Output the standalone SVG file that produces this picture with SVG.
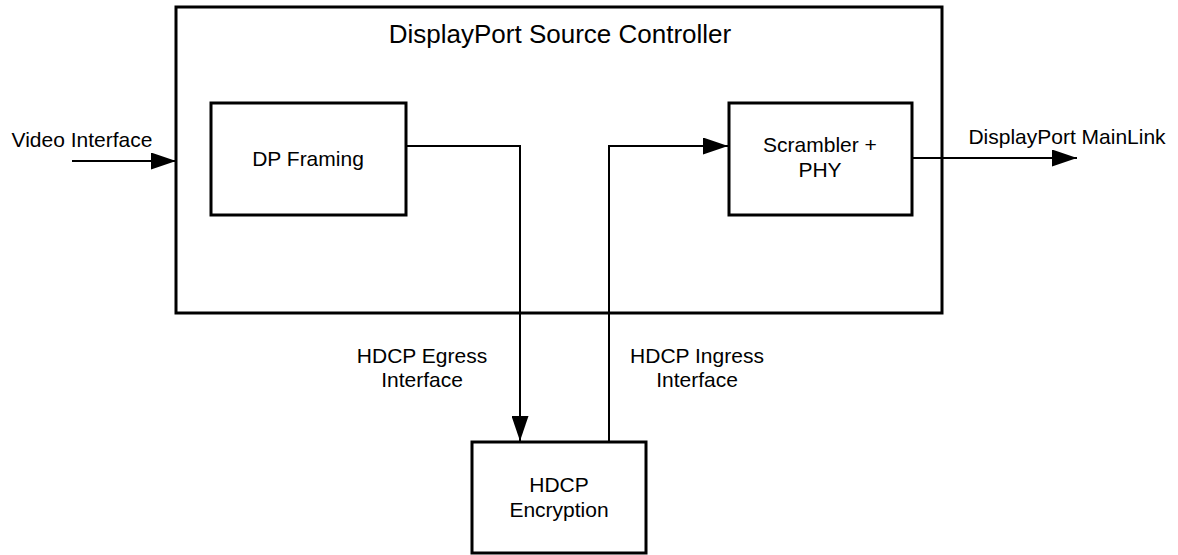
<svg xmlns="http://www.w3.org/2000/svg" width="1178" height="555" viewBox="0 0 1178 555">
<style>
.box{fill:#fff;stroke:#000;stroke-width:3}
.frame{fill:none;stroke:#000;stroke-width:3}
.wire{fill:none;stroke:#000;stroke-width:2}
text{font-family:"Liberation Sans",Arial,sans-serif;font-size:21px;fill:#000;text-anchor:middle}
.title{font-size:26px}
</style>
<defs>
<marker id="arr" viewBox="0 0 25 17" refX="25" refY="8.5" markerWidth="25" markerHeight="17" markerUnits="userSpaceOnUse" orient="auto">
<path d="M0,0 L25,8.5 L0,17 Z" fill="#000"/>
</marker>
</defs>
<g id="controller">
<rect class="frame" x="176" y="7" width="766" height="306"/>
<text class="title" x="560" y="43">DisplayPort Source Controller</text>
</g>
<g id="dp-framing">
<rect class="box" x="211" y="103" width="195" height="112"/>
<text x="308" y="166">DP Framing</text>
</g>
<g id="scrambler">
<rect class="box" x="729" y="103" width="183" height="112"/>
<text x="820" y="152">Scrambler +</text>
<text x="820" y="177">PHY</text>
</g>
<g id="hdcp">
<rect class="box" x="472" y="442" width="174" height="111"/>
<text x="559" y="492">HDCP</text>
<text x="559" y="517">Encryption</text>
</g>
<g id="connectors">
<line class="wire" x1="72" y1="161" x2="176" y2="161" marker-end="url(#arr)"/>
<polyline class="wire" points="406,146 520,146 520,441" marker-end="url(#arr)"/>
<polyline class="wire" points="609,441 609,146 728,146" marker-end="url(#arr)"/>
<line class="wire" x1="912" y1="158" x2="1077" y2="158" marker-end="url(#arr)"/>
<text x="82" y="147">Video Interface</text>
<text x="1067" y="144">DisplayPort MainLink</text>
<text x="422" y="363">HDCP Egress</text>
<text x="422" y="387">Interface</text>
<text x="697" y="363">HDCP Ingress</text>
<text x="697" y="387">Interface</text>
</g>
</svg>
